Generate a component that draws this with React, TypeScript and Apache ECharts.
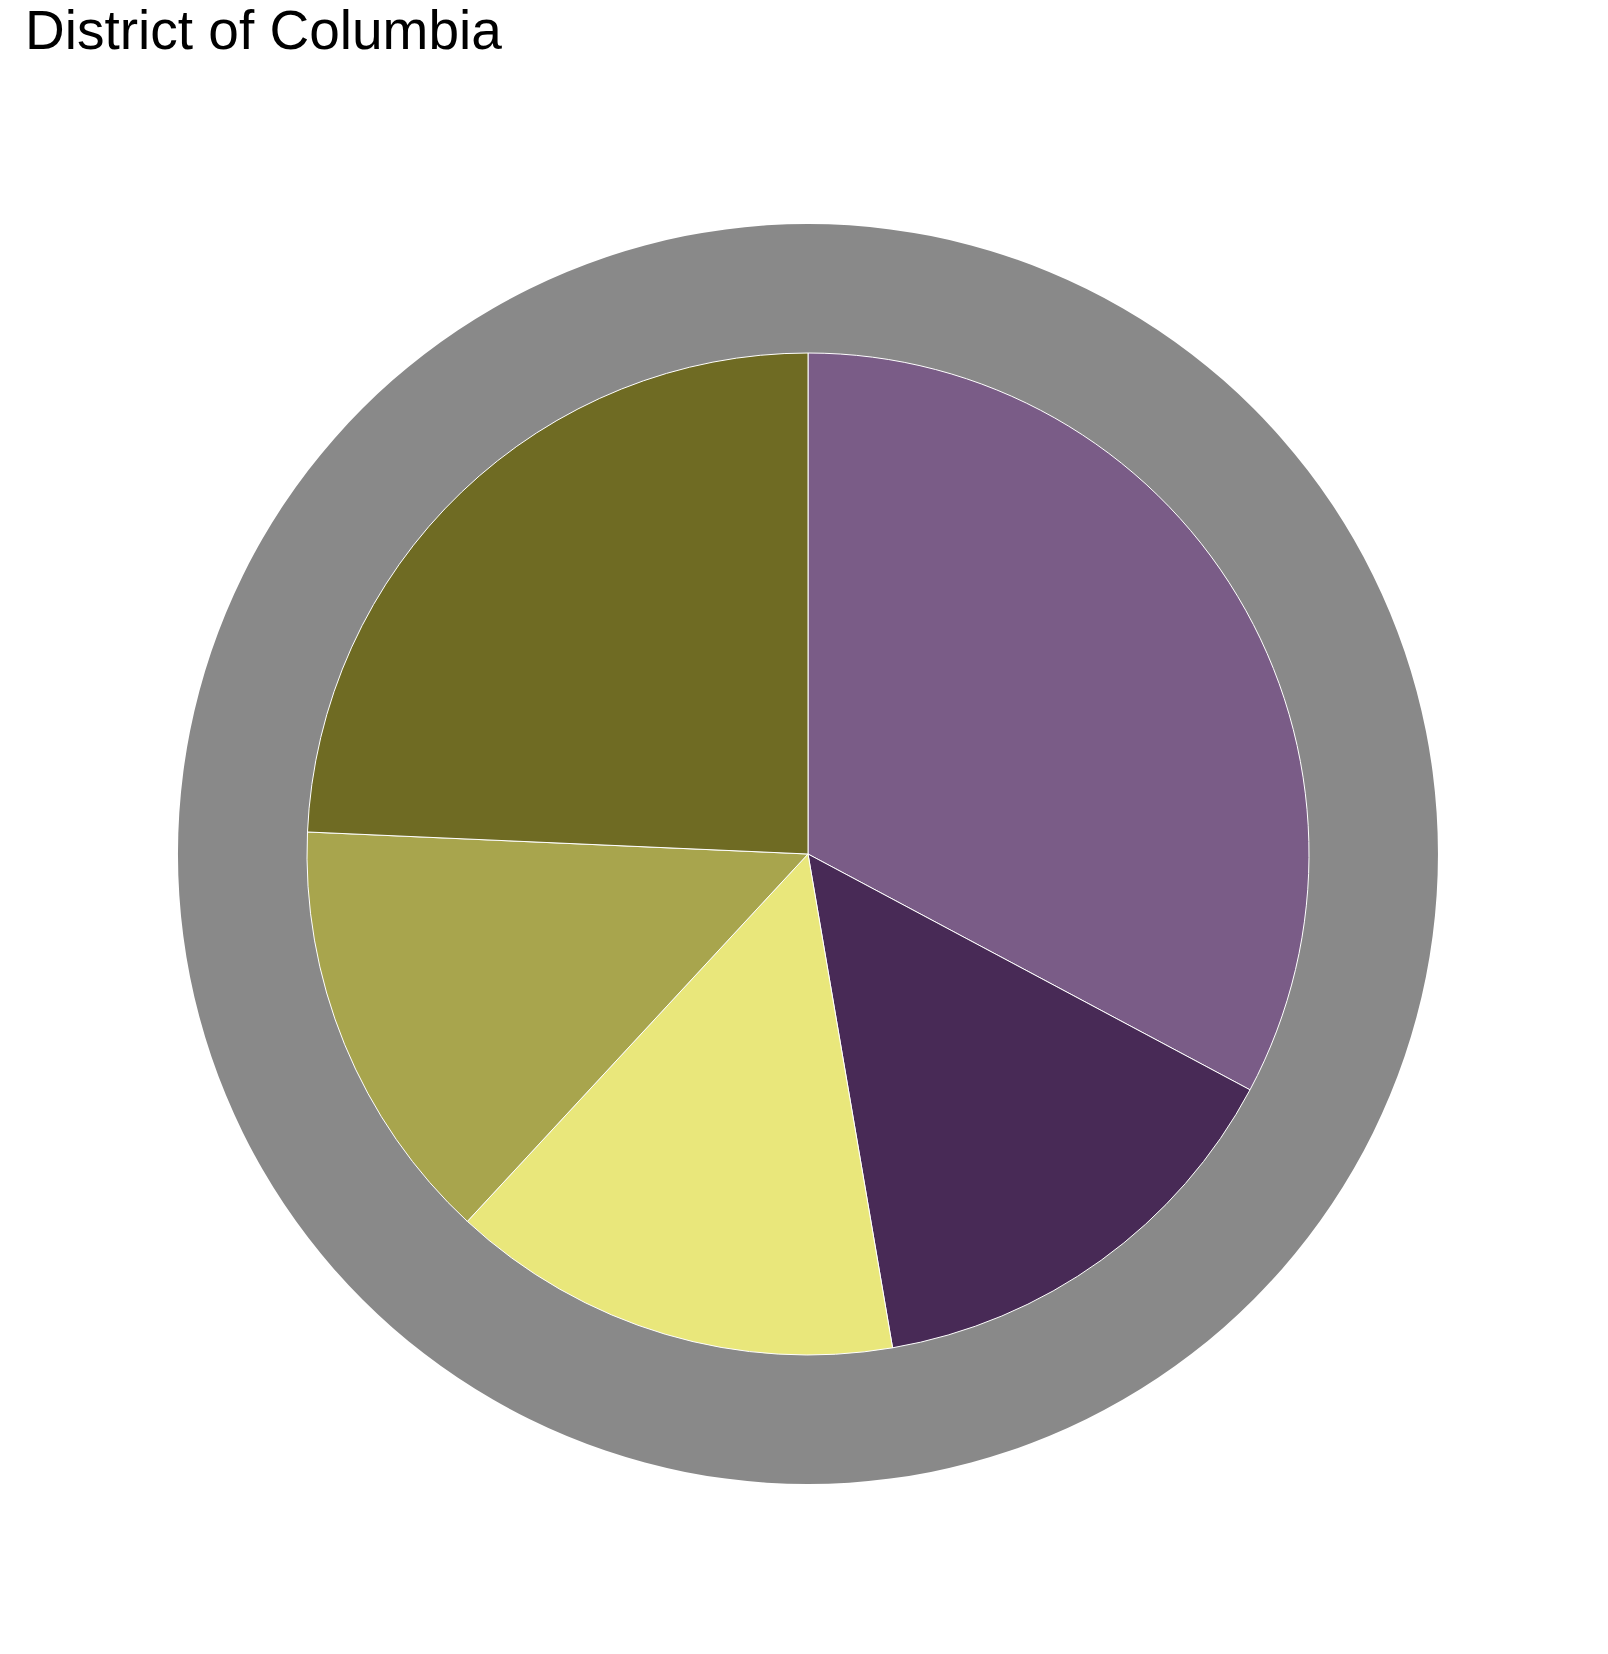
import { useEffect, useRef } from 'react';
import * as echarts from 'echarts';

const categories = ['A', 'B', 'C', 'D', 'E'];
const values = [32.8, 14.5, 14.6, 13.8, 24.3];
const colors = ['#7a5c87', '#482a56', '#e9e77b', '#a8a54d', '#6f6b23'];

export default function App() {
  const ref = useRef<HTMLDivElement>(null);

  useEffect(() => {
    if (!ref.current) return;
    const chart = echarts.init(ref.current, undefined, { renderer: 'svg' });
    chart.setOption({
      animation: false,
      title: {
        text: 'District of Columbia',
        left: 20,
        top: -3,
        textStyle: { fontFamily: 'Liberation Sans', fontWeight: 'normal', fontSize: 55, color: '#000' },
      },
      series: [
        {
          type: 'pie',
          silent: true,
          center: [808, 854],
          radius: [0, 630],
          label: { show: false },
          data: [{ value: 1, name: 'bg', itemStyle: { color: '#898989' } }],
        },
        {
          type: 'pie',
          center: [808, 854],
          radius: [0, 501],
          startAngle: 90,
          clockwise: true,
          label: { show: false },
          labelLine: { show: false },
          itemStyle: { borderColor: '#ffffff', borderWidth: 1 },
          data: categories.map((name, i) => ({
            name,
            value: values[i],
            itemStyle: { color: colors[i] },
          })),
        },
      ],
    });
    return () => chart.dispose();
  }, []);

  return (
    <div
      ref={ref}
      style={{ position: 'absolute', left: 0, top: 0, width: 1608, height: 1654, background: '#fff' }}
    />
  );
}
